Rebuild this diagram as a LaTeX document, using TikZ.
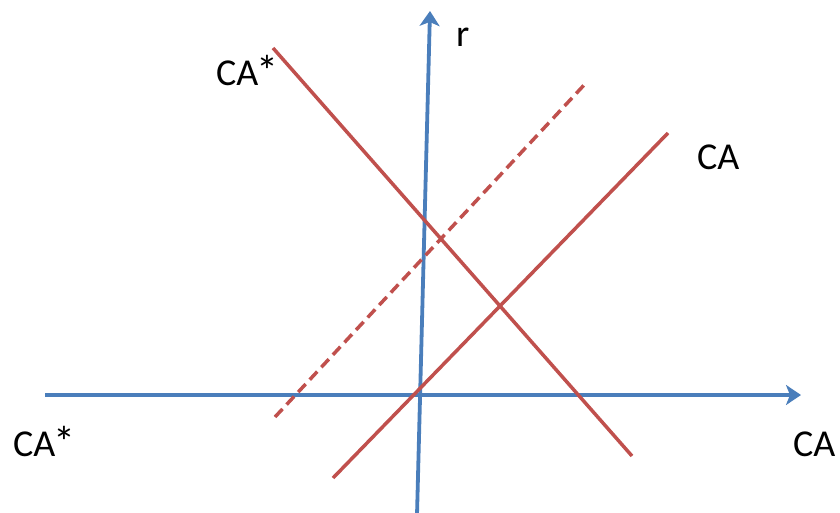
\documentclass[tikz,border=0pt]{standalone}
\usepackage{fontspec}
\setmainfont{Carlito}
\usetikzlibrary{arrows.meta}
\definecolor{axisblue}{RGB}{74,126,187}
\definecolor{curvered}{RGB}{192,80,77}
\begin{document}
\begin{tikzpicture}[x=1pt,y=-1pt,
  axis/.style={draw=axisblue,line width=3.8pt,-{Stealth[length=15pt,width=20pt,inset=4pt]}},
  curve/.style={draw=curvered,line width=3.5pt},
  lbl/.style={font=\fontsize{38}{40}\selectfont,inner sep=0pt,anchor=base west}]
\useasboundingbox (0,0) rectangle (840,513);
\coordinate (ybot) at (417,515);
\coordinate (ytop) at (430,11);
\coordinate (xl) at (45,395);
\coordinate (xr) at (801,395);
\coordinate (sa) at (273,48);
\coordinate (sb) at (632,456);
\coordinate (ca) at (333,478);
\coordinate (cb) at (668,133);
\coordinate (da) at (275,417);
\coordinate (db) at (585,84);
\draw[axis] (xl) -- (xr);
\draw[axis] (ybot) -- (ytop);
\draw[curve] (sa) -- (sb);
\draw[curve] (ca) -- (cb);
\draw[curve,dash pattern=on 11pt off 6pt] (da) -- (db);
\node[lbl] (r) at (456,47) {r};
\node[lbl] (castartop) at (216,86) {CA\kern-2pt\raisebox{-1pt}{\fontsize{44}{46}\selectfont *}};
\node[lbl] (catop) at (697,170) {CA};
\node[lbl] (castarl) at (13,456) {CA\kern-2pt\raisebox{-1pt}{\fontsize{44}{46}\selectfont *}};
\node[lbl] (car) at (793,456) {CA};
\end{tikzpicture}
\end{document}
